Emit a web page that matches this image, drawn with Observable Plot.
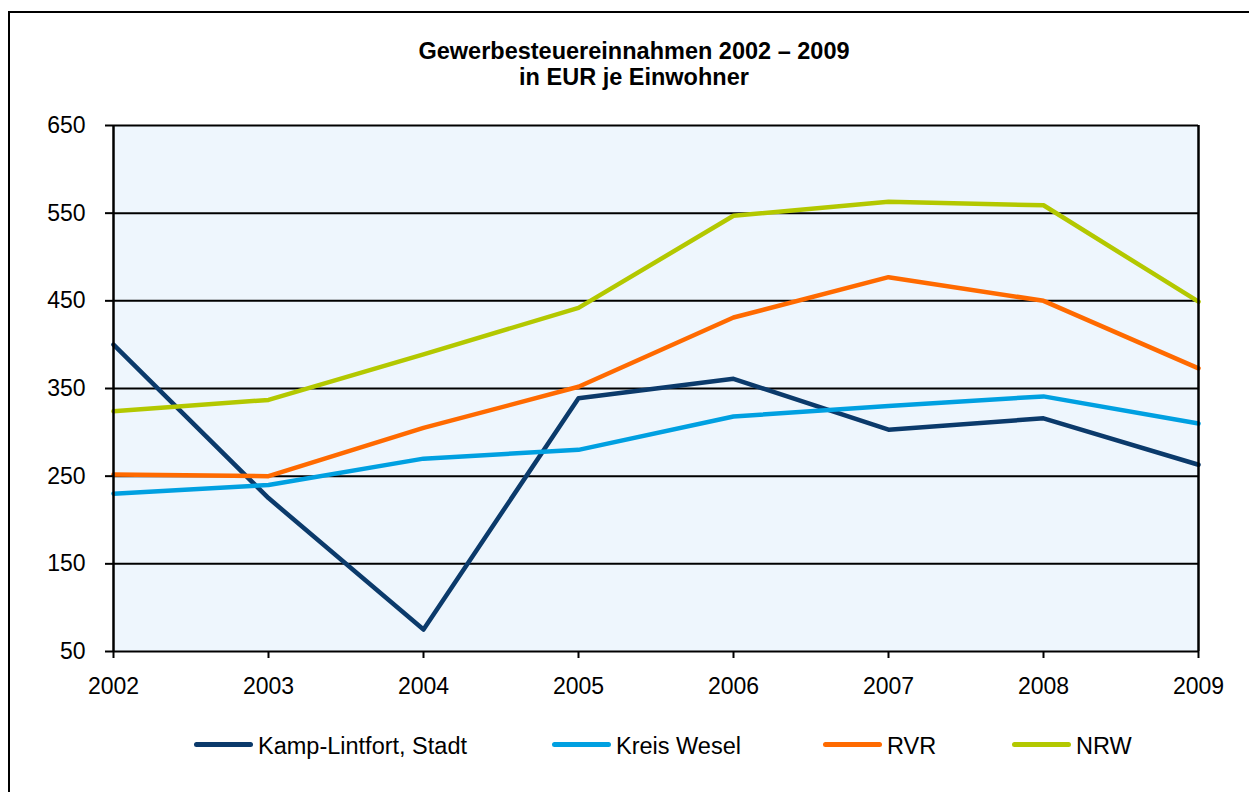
<!DOCTYPE html>
<html>
<head>
<meta charset="utf-8">
<script src="https://cdn.jsdelivr.net/npm/d3@7"></script>
<script src="https://cdn.jsdelivr.net/npm/@observablehq/plot@0.6"></script>
<style>
  html, body { margin: 0; padding: 0; background: #fff; }
  body { width: 1249px; height: 792px; overflow: hidden; position: relative;
         font-family: "Liberation Sans", Arial, sans-serif; color: #000; }
  #frame { position: absolute; left: 8px; top: 11px; width: 1300px; height: 900px;
           border: 2px solid #000; box-sizing: border-box; }
  #title { position: absolute; left: 0; width: 1268px; top: 38px; text-align: center;
           font-weight: bold; font-size: 23.5px; line-height: 26px; }
  #chart { position: absolute; left: 0; top: 100px; }
  #legend { position: absolute; left: 0; top: 733px; width: 1249px; height: 30px;
            font-size: 23.5px; line-height: 26px; }
  .item { position: absolute; top: 0; display: flex; align-items: center; white-space: nowrap; }
  .sw { width: 59px; height: 5px; border-radius: 2.5px; margin-right: 5px; margin-top: -3px; }
</style>
</head>
<body>
<div id="frame"></div>
<div id="title">Gewerbesteuereinnahmen 2002 – 2009<br>in EUR je Einwohner</div>
<div id="chart"></div>
<div id="legend"></div>
<script>
const years = [2002, 2003, 2004, 2005, 2006, 2007, 2008, 2009];
const seriesNames = ["Kamp-Lintfort, Stadt", "Kreis Wesel", "RVR", "NRW"];
const kampLintfort = [400, 225, 75, 339, 361, 303, 316, 263];
const kreisWesel   = [230, 240, 270, 280, 318, 330, 341, 310];
const rvr          = [252, 250, 305, 352, 431, 477, 450, 373];
const nrw          = [324, 337, 389, 442, 547, 563, 559, 449];
const yTicks = [50, 150, 250, 350, 450, 550, 650];
const colors = ["#0b3a6b", "#00a0e1", "#ff6a00", "#b3c800"];
const legendLeft = [194, 552, 823, 1012];

const seriesValues = [kampLintfort, kreisWesel, rvr, nrw];
const data = seriesNames.flatMap((s, i) =>
  seriesValues[i].map((v, j) => ({ series: s, year: years[j], value: v })));

const chart = Plot.plot({
  width: 1249,
  height: 620,
  marginLeft: 113,
  marginRight: 51,
  marginTop: 25,
  marginBottom: 69,
  style: { fontFamily: "'Liberation Sans', Arial, sans-serif", fontSize: "23px", color: "#000", background: "transparent", overflow: "visible" },
  x: { type: "linear", domain: [years[0], years[years.length - 1]] },
  y: { domain: [yTicks[0], yTicks[yTicks.length - 1]] },
  color: { domain: seriesNames, range: colors },
  marks: [
    Plot.frame({ fill: "#eef6fd", stroke: "none" }),
    Plot.ruleY(yTicks, { stroke: "#000", strokeWidth: 2 }),
    Plot.line(data, { x: "year", y: "value", stroke: "series", strokeWidth: 4.5, strokeLinejoin: "round", strokeLinecap: "round" }),
    Plot.ruleX([years[0], years[years.length - 1]], { stroke: "#000", strokeWidth: 2.5 }),
    Plot.axisY(yTicks, { tickSize: 8, tickPadding: 20, fontSize: 23, strokeWidth: 2, label: null }),
    Plot.axisX(years, { tickSize: 7, tickPadding: 19, tickFormat: "d", fontSize: 23, strokeWidth: 2, label: null })
  ]
});
document.getElementById("chart").appendChild(chart);

const legend = document.getElementById("legend");
seriesNames.forEach((s, i) => {
  const item = document.createElement("div");
  item.className = "item";
  item.style.left = legendLeft[i] + "px";
  const sw = document.createElement("span");
  sw.className = "sw";
  sw.style.background = colors[i];
  const t = document.createElement("span");
  t.textContent = s;
  item.appendChild(sw);
  item.appendChild(t);
  legend.appendChild(item);
});
</script>
</body>
</html>
